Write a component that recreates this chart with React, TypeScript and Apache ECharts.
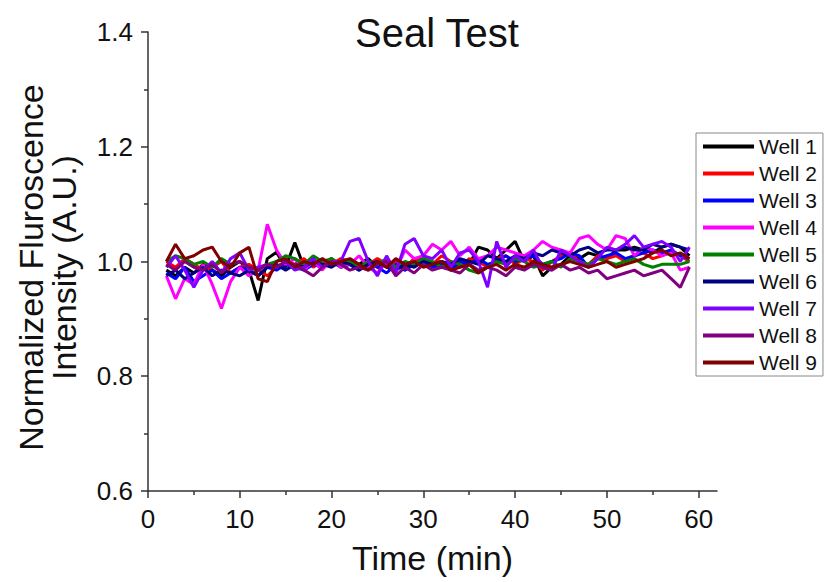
import React, { useEffect, useRef } from "react";
import * as echarts from "echarts";

const times = [2,3,4,5,6,7,8,9,10,11,12,13,14,15,16,17,18,19,20,21,22,23,24,25,26,27,28,29,30,31,32,33,34,35,36,37,38,39,40,41,42,43,44,45,46,47,48,49,50,51,52,53,54,55,56,57,58,59];

const seriesNames = ["Well 1","Well 2","Well 3","Well 4","Well 5","Well 6","Well 7","Well 8","Well 9"];
const seriesColors = ["#000000","#ff0000","#0000ff","#ff00ff","#008000","#000080","#8000ff","#800080","#800000"];

const well1 = [0.985,0.975,0.99,0.98,0.995,0.985,0.975,0.99,1.0,0.985,
  0.932,1.005,1.016,0.99,1.033,0.99,1.0,0.995,1.005,0.99,
  1.0,0.995,1.005,0.99,0.995,1.0,0.985,1.0,1.005,0.995,
  1.0,0.99,1.0,0.995,1.025,1.02,1.005,1.02,1.035,1.0,
  1.01,0.975,0.99,0.995,1.01,1.005,1.015,1.01,1.005,1.02,
  1.02,1.025,1.02,1.015,1.025,1.03,1.025,1.01];
const well2 = [1.0,0.99,1.005,0.995,0.985,0.99,1.0,0.98,0.99,0.995,
  0.985,0.975,0.99,1.0,0.995,1.005,0.99,1.0,0.995,1.005,
  1.0,0.99,0.995,1.005,0.995,1.0,0.99,1.005,1.0,0.995,
  1.01,1.0,0.99,1.005,1.0,0.99,1.005,1.01,0.995,1.005,
  1.0,0.985,1.0,1.01,1.015,1.0,0.995,1.01,1.005,1.01,
  1.0,1.01,1.015,1.005,1.01,1.02,1.01,1.0];
const well3 = [0.98,0.97,0.99,0.965,0.975,0.985,0.97,0.98,0.99,0.985,
  0.975,0.99,0.985,0.995,0.99,0.985,0.995,0.99,1.0,0.99,
  0.995,0.985,1.0,0.99,0.98,0.995,0.985,0.995,1.0,0.99,
  0.995,0.985,1.0,0.995,1.005,0.995,1.0,1.01,1.0,1.005,
  1.01,0.995,1.0,1.005,1.015,1.01,0.99,1.005,1.01,1.015,
  1.005,1.01,1.015,1.02,1.015,1.02,1.01,1.005];
const well4 = [0.975,0.935,0.97,0.96,0.995,0.96,0.918,0.965,0.99,0.975,
  0.985,1.065,1.02,0.995,1.005,0.985,1.0,0.985,1.005,0.99,
  0.995,1.01,0.99,0.98,1.0,0.985,1.02,1.005,1.01,1.03,
  1.02,1.035,1.01,1.025,1.005,1.01,1.025,1.02,1.015,1.01,
  1.02,1.035,1.025,1.02,1.015,1.04,1.045,1.03,1.02,1.045,
  1.04,1.01,1.025,1.02,1.01,1.015,0.985,0.99];
const well5 = [1.0,1.01,1.005,0.995,1.0,0.99,1.005,0.995,1.0,0.99,
  0.985,0.995,1.0,1.01,1.005,0.995,1.01,1.0,1.005,0.995,
  1.0,0.99,1.0,0.995,1.005,0.99,1.0,0.995,1.005,1.0,
  0.99,1.0,0.995,0.985,0.98,0.99,1.0,0.995,1.005,1.0,
  0.99,0.995,1.0,0.99,1.005,1.0,0.995,1.005,1.0,0.995,
  1.0,1.005,0.995,0.99,0.995,0.995,0.995,1.0];
const well6 = [0.975,0.985,0.97,0.98,0.99,0.975,0.985,0.98,0.975,0.985,
  0.975,0.99,0.995,0.985,0.995,0.99,1.0,0.995,0.99,1.0,
  0.995,0.985,0.995,1.0,0.99,0.985,0.995,0.99,1.0,0.995,
  1.0,0.995,1.005,1.0,0.995,1.01,1.005,1.0,1.01,1.005,
  1.015,1.01,1.02,1.015,1.01,1.02,1.025,1.015,1.02,1.02,
  1.025,1.02,1.02,1.03,1.025,1.03,1.025,1.02];
const well7 = [0.99,1.01,0.985,0.955,0.985,1.0,0.98,1.005,1.015,0.985,
  0.99,0.995,0.99,1.0,0.985,0.99,1.005,0.99,1.0,1.0,
  1.035,1.04,1.0,0.975,1.01,0.98,1.03,1.04,1.01,1.005,
  1.02,0.99,1.015,1.02,1.0,0.955,1.035,0.99,1.01,1.0,
  1.02,0.99,0.985,1.02,1.01,1.0,0.99,1.005,1.025,1.02,
  1.03,1.045,1.025,1.03,1.035,1.025,1.0,1.025];
const well8 = [0.995,0.985,1.0,0.99,0.985,0.995,0.98,0.995,1.0,0.99,
  0.985,0.995,0.99,1.0,0.995,0.985,0.975,0.99,1.0,0.995,
  0.985,0.99,0.985,0.995,1.0,0.975,0.99,0.98,0.995,0.985,
  0.99,0.985,0.98,0.995,0.985,0.99,0.985,0.975,0.99,0.985,
  0.995,0.99,0.985,0.995,0.985,0.99,0.98,0.985,0.97,0.975,
  0.98,0.985,0.975,0.98,0.985,0.97,0.955,0.99];
const well9 = [1.0,1.03,1.005,1.01,1.02,1.025,1.0,0.99,1.015,1.025,
  0.97,0.965,1.0,1.005,0.99,1.0,0.995,1.005,0.995,1.0,
  1.005,0.995,0.985,1.0,0.99,1.005,0.995,1.0,0.99,0.995,
  1.0,0.985,0.99,0.995,0.98,0.99,0.995,0.985,0.995,0.99,
  1.0,0.995,0.99,0.995,1.0,0.995,0.99,0.995,1.0,0.99,
  0.995,1.0,1.005,1.015,1.02,1.01,1.015,1.005];

const allWells = [well1, well2, well3, well4, well5, well6, well7, well8, well9];

const xMajorTicks = [0, 10, 20, 30, 40, 50, 60];
const xMinorTicks = [5, 15, 25, 35, 45, 55];

const FONT = "'Liberation Sans', Arial, sans-serif";

export default function App() {
  const ref = useRef<HTMLDivElement>(null);
  useEffect(() => {
    if (!ref.current) return;
    const chart = echarts.init(ref.current, undefined, { renderer: "svg" });
    const axisColor = "#333333";
    chart.setOption({
      animation: false,
      backgroundColor: "#ffffff",
      textStyle: { fontFamily: FONT },
      title: {
        text: "Seal Test",
        left: 432,
        textAlign: "center",
        top: 8,
        textStyle: { fontFamily: FONT, fontSize: 40, fontWeight: "normal", color: "#111" },
      },
      legend: {
        orient: "vertical",
        left: 696,
        top: 133,
        data: seriesNames,
        itemWidth: 51,
        itemHeight: 14,
        itemGap: 6,
        padding: [3, 6, 3, 7],
        borderColor: "#888888",
        borderWidth: 1,
        borderRadius: 0,
        icon: "path://M0,0 L100,0 L100,8 L0,8 Z",
        textStyle: { fontFamily: FONT, fontSize: 21, lineHeight: 21, color: "#111" },
      },
      grid: { left: 148, right: 108, top: 32, bottom: 91, containLabel: false },
      xAxis: [
        {
          type: "value",
          min: 0,
          max: 62,
          interval: 10,
          name: "Time (min)",
          nameLocation: "middle",
          nameGap: 50,
          nameTextStyle: { fontFamily: FONT, fontSize: 34, color: "#111" },
          axisLine: { show: true, onZero: false, lineStyle: { color: axisColor, width: 1.5 } },
          axisTick: { show: true, customValues: xMajorTicks, length: 7, lineStyle: { color: axisColor, width: 1.5 } },
          axisLabel: { customValues: xMajorTicks, fontFamily: FONT, fontSize: 26, color: "#111", margin: 15 },
          splitLine: { show: false },
        },
        {
          type: "value",
          min: 0,
          max: 62,
          position: "bottom",
          axisLine: { show: false },
          axisTick: { show: true, customValues: xMinorTicks, length: 4, lineStyle: { color: axisColor, width: 1.5 } },
          axisLabel: { show: false },
          splitLine: { show: false },
        },
      ],
      yAxis: {
        type: "value",
        min: 0.6,
        max: 1.4,
        interval: 0.2,
        name: "Normalized Fluroscence\nIntensity (A.U.)",
        nameLocation: "middle",
        nameGap: 68,
        nameTextStyle: { fontFamily: FONT, fontSize: 34, lineHeight: 33, color: "#111", padding: [0, 12, 0, 0] },
        axisLine: { show: true, onZero: false, lineStyle: { color: axisColor, width: 1.5 } },
        axisTick: { show: true, length: 7, lineStyle: { color: axisColor, width: 1.5 } },
        minorTick: { show: true, splitNumber: 2, length: 4, lineStyle: { color: axisColor, width: 1.5 } },
        axisLabel: {
          fontFamily: FONT,
          fontSize: 26,
          color: "#111",
          margin: 15,
          formatter: (v: number) => v.toFixed(1),
        },
        splitLine: { show: false },
        minorSplitLine: { show: false },
      },
      series: allWells.map((vals, i) => ({
        name: seriesNames[i],
        type: "line",
        xAxisIndex: 0,
        symbol: "none",
        color: seriesColors[i],
        lineStyle: { color: seriesColors[i], width: 3 },
        data: times.map((t, j) => [t, vals[j]]),
      })),
    });
    return () => chart.dispose();
  }, []);
  return <div ref={ref} style={{ width: 825, height: 582, position: "absolute", left: 0, top: 0 }} />;
}
